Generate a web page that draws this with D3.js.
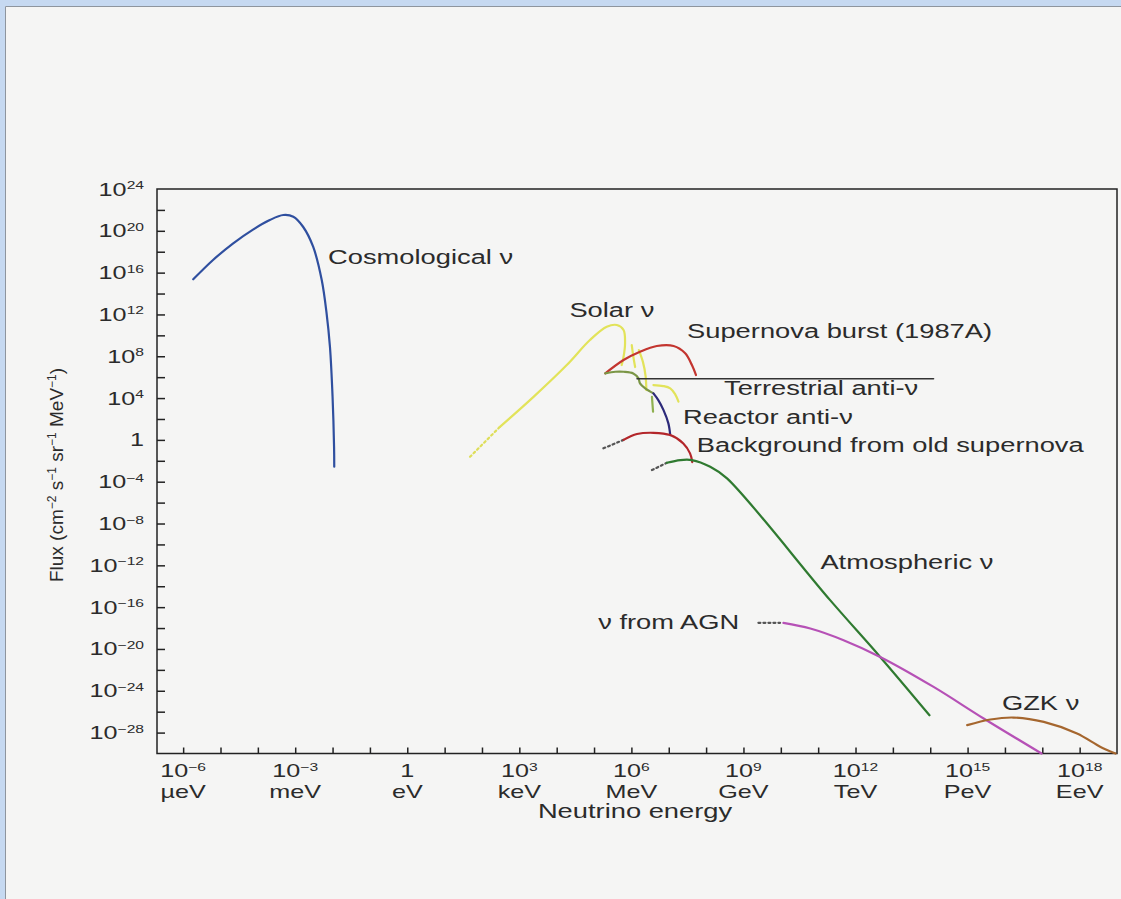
<!DOCTYPE html>
<html>
<head>
<meta charset="utf-8">
<script src="https://cdn.jsdelivr.net/npm/d3@7/dist/d3.min.js"></script>
<style>
    html, body { margin: 0; padding: 0; background: #c6d9f1; }
    svg { display: block; }
    text { font-family: "Liberation Sans", Arial, Helvetica, sans-serif; fill: #2b2b2b; }
</style>
</head>
<body>
<svg id="chart" width="1121" height="899"></svg>
<script>
//Curves are stored as [log10 energy (eV), log10 flux] pairs
var cosmologicalNu = [[-5.73, 15.36], [-5.20, 17.21], [-4.66, 18.80], [-4.12, 20.14], [-3.68, 21.03],
    [-3.32, 21.51], [-3.05, 21.35], [-2.79, 20.39], [-2.52, 18.48], [-2.29, 15.29], [-2.16, 12.11],
    [-2.07, 8.91], [-2.00, 4.12], [-1.96, -0.66], [-1.955, -2.57]];
var solarNu = [[2.48, 1.25], [3.38, 4.12], [4.27, 7.16], [4.89, 9.55], [5.34, 10.82], [5.61, 10.99],
    [5.79, 10.51], [5.83, 9.23], [5.79, 7.95], [5.74, 7.16]];
var solarNuDotted = [[1.68, -1.62], [2.48, 1.25]];
var solarLineA = [[6.01, 9.07], [6.05, 8.02], [6.10, 6.97]];
var solarLineB = [[6.20, 8.59], [6.31, 7.44], [6.38, 6.11], [6.40, 4.77]];
var solarBoron = [[6.59, 5.24], [6.85, 5.15], [7.04, 4.93], [7.17, 4.38], [7.26, 3.65]];
var solarGreenLine = [[6.55, 4.12], [6.58, 2.69]];
var supernovaBurst = [[5.30, 6.36], [5.79, 7.64], [6.23, 8.43], [6.68, 8.98], [7.13, 8.98],
    [7.44, 8.28], [7.62, 7.16], [7.73, 6.20]];
var terrestrialAntiNu = [[5.30, 6.36], [5.57, 6.52], [5.79, 6.52], [6.05, 6.36], [6.19, 5.88],
    [6.23, 5.41], [6.37, 4.93], [6.59, 4.45]];
var terrestrialLimit = [[6.15, 5.85], [14.09, 5.85]];
var reactorAntiNu = [[6.59, 4.45], [6.72, 3.81], [6.86, 2.85], [6.99, 1.58], [7.04, 0.46]];
var oldSupernova = [[5.79, 0.0], [6.15, 0.56], [6.59, 0.68], [7.04, 0.46], [7.39, -0.34],
    [7.57, -1.29], [7.63, -2.12]];
var oldSupernovaDotted = [[5.25, -0.81], [5.79, 0.0]];
var atmosphericNu = [[6.95, -2.19], [7.31, -1.93], [7.62, -1.93], [8.11, -2.57], [8.56, -3.68],
    [11.32, -15.33], [12.66, -20.76], [13.98, -26.34]];
var atmosphericNuDotted = [[6.55, -2.89], [6.95, -2.19]];
var agnNu = [[10.07, -17.50], [10.79, -18.04], [11.68, -19.16], [12.66, -20.76], [14.09, -23.63],
    [15.43, -26.65], [16.98, -30.0]];
var agnNuDotted = [[9.40, -17.50], [9.98, -17.50]];
var gzkNu = [[14.99, -27.29], [15.61, -26.75], [16.23, -26.56], [17.04, -26.98], [17.93, -28.09],
    [18.56, -29.37], [18.96, -30.0]];

//Annotation text with its anchor (left, baseline) as [log10 energy, log10 flux]
var curveLabels = ["Cosmological ν", "Solar ν", "Supernova burst (1987A)", "Terrestrial anti-ν",
    "Reactor anti-ν", "Background from old supernova", "Atmospheric ν", "ν from AGN", "GZK ν"];
var curveLabelAt = [[-2.12, 16.87], [4.34, 11.80], [7.49, 9.77], [8.48, 4.29], [7.38, 1.56],
    [7.75, -1.12], [11.06, -12.36], [5.11, -18.11], [15.92, -25.86]];

//Axis ticks and labels
var xTickPowers = d3.range(-6, 19, 1);
var xLabelPowers = [-6, -3, 0, 3, 6, 9, 12, 15, 18];
var xUnitNames = ["µeV", "meV", "eV", "keV", "MeV", "GeV", "TeV", "PeV", "EeV"];
var yTickPowers = d3.range(-28, 24, 2);
var yLabelPowers = [24, 20, 16, 12, 8, 4, 0, -4, -8, -12, -16, -20, -24, -28];

var svg = d3.select("#chart");

//Scanned page with its blue frame
svg.append("rect").attr("x", 5).attr("y", 6).attr("width", 1116).attr("height", 893)
    .attr("fill", "#f5f5f4");
svg.append("path").attr("d", "M5.5,899V6.5H1121").attr("fill", "none")
    .attr("stroke", "#8e959e").attr("stroke-width", 1);

var plotLeft = 157, plotRight = 1117, plotTop = 189, plotBottom = 753.5;

var x = d3.scaleLog().domain([Math.pow(10, -6.7), 1e19]).range([plotLeft, plotRight]);
var y = d3.scaleLog().domain([1e-30, 1e24]).range([plotBottom, plotTop]);

var textScale = 1.4;
var minus = "\u2212";

function expText(p) {
    return p < 0 ? minus + Math.abs(p) : String(p);
}

//"10" with a raised exponent, or plain "1"
function powerLabel(parent, p, fontSize) {
    var t = parent.append("text").attr("font-size", fontSize);
    if (p === 0) {
        t.text("1");
        return t;
    }
    t.append("tspan").text("10");
    t.append("tspan")
        .attr("dy", -fontSize * 0.36)
        .attr("font-size", fontSize * 0.62)
        .text(expText(p));
    return t;
}

// frame
svg.append("rect")
    .attr("x", plotLeft).attr("y", plotTop)
    .attr("width", plotRight - plotLeft).attr("height", plotBottom - plotTop)
    .attr("fill", "none").attr("stroke", "#222").attr("stroke-width", 1.5);

// ticks point inwards
var xAxis = d3.axisBottom(x)
    .tickValues(xTickPowers.map(function (p) { return Math.pow(10, p); }))
    .tickSizeInner(-6).tickSizeOuter(0).tickFormat("");
var yAxis = d3.axisLeft(y)
    .tickValues(yTickPowers.map(function (p) { return Math.pow(10, p); }))
    .tickSizeInner(-8).tickSizeOuter(0).tickFormat("");

var gx = svg.append("g").attr("transform", "translate(0," + plotBottom + ")").call(xAxis);
var gy = svg.append("g").attr("transform", "translate(" + plotLeft + ",0)").call(yAxis);
[gx, gy].forEach(function (g) {
    g.select(".domain").remove();
    g.selectAll(".tick line").attr("stroke", "#222").attr("stroke-width", 1.5);
});

// y tick labels
yLabelPowers.forEach(function (p) {
    var g = svg.append("g")
        .attr("transform", "translate(144," + (y(Math.pow(10, p)) + 6.5) + ") scale(" + textScale + ",1)");
    powerLabel(g, p, 18).attr("text-anchor", "end");
});

// x tick labels with unit names
xLabelPowers.forEach(function (p, i) {
    var cx = x(Math.pow(10, p));
    var g1 = svg.append("g")
        .attr("transform", "translate(" + cx + ",777) scale(" + textScale + ",1)");
    powerLabel(g1, p, 18).attr("text-anchor", "middle");
    svg.append("g")
        .attr("transform", "translate(" + cx + ",798) scale(" + textScale + ",1)")
        .append("text")
        .attr("font-size", 18)
        .attr("text-anchor", "middle")
        .text(xUnitNames[i]);
});

svg.append("g")
    .attr("transform", "translate(635,818) scale(" + textScale + ",1)")
    .append("text")
    .attr("font-size", 19.5)
    .attr("text-anchor", "middle")
    .text("Neutrino energy");

// y axis title
var yTitle = svg.append("text")
    .attr("transform", "translate(63,475) rotate(-90)")
    .attr("font-size", 19)
    .attr("text-anchor", "middle");
[["Flux (cm", "−2"], [" s", "−1"], [" sr", "−1"], [" MeV", "−1"], [")", null]].forEach(function (part) {
    yTitle.append("tspan").attr("dy", part[0] === "Flux (cm" ? 0 : 7).text(part[0]);
    if (part[1]) {
        yTitle.append("tspan").attr("dy", -7).attr("font-size", 12).text(part[1]);
    }
});

//Curves
var line = d3.line()
    .x(function (d) { return x(Math.pow(10, d[0])); })
    .y(function (d) { return y(Math.pow(10, d[1])); })
    .curve(d3.curveCatmullRom.alpha(0.5));

var curves = [
    { pts: cosmologicalNu, color: "#2f4f9f" },
    { pts: solarNuDotted, color: "#dede5a", dash: "2,3" },
    { pts: solarNu, color: "#e2e35a" },
    { pts: solarLineA, color: "#e2e35a" },
    { pts: solarLineB, color: "#e2e35a" },
    { pts: solarBoron, color: "#e2e35a" },
    { pts: solarGreenLine, color: "#8fb050" },
    { pts: supernovaBurst, color: "#c3352f" },
    { pts: terrestrialAntiNu, color: "#7b9646" },
    { pts: terrestrialLimit, color: "#333", width: 1.5 },
    { pts: reactorAntiNu, color: "#2d2a7a" },
    { pts: oldSupernovaDotted, color: "#555", dash: "2,3" },
    { pts: oldSupernova, color: "#b3262a" },
    { pts: atmosphericNuDotted, color: "#555", dash: "2,3" },
    { pts: atmosphericNu, color: "#2f7a30" },
    { pts: agnNuDotted, color: "#555", dash: "2,3" },
    { pts: agnNu, color: "#b651b6" },
    { pts: gzkNu, color: "#a5662e" }
];

svg.append("g").selectAll("path")
    .data(curves)
    .enter().append("path")
    .attr("d", function (d) { return line(d.pts); })
    .attr("fill", "none")
    .attr("stroke", function (d) { return d.color; })
    .attr("stroke-width", function (d) { return d.width || 2.2; })
    .attr("stroke-dasharray", function (d) { return d.dash || null; })
    .attr("stroke-linecap", "round");

//Curve names
curveLabels.forEach(function (name, i) {
    var at = curveLabelAt[i];
    svg.append("g")
        .attr("transform", "translate(" + x(Math.pow(10, at[0])) + "," + y(Math.pow(10, at[1])) +
            ") scale(" + textScale + ",1)")
        .append("text")
        .attr("font-size", 19.5)
        .text(name);
});
</script>
</body>
</html>
